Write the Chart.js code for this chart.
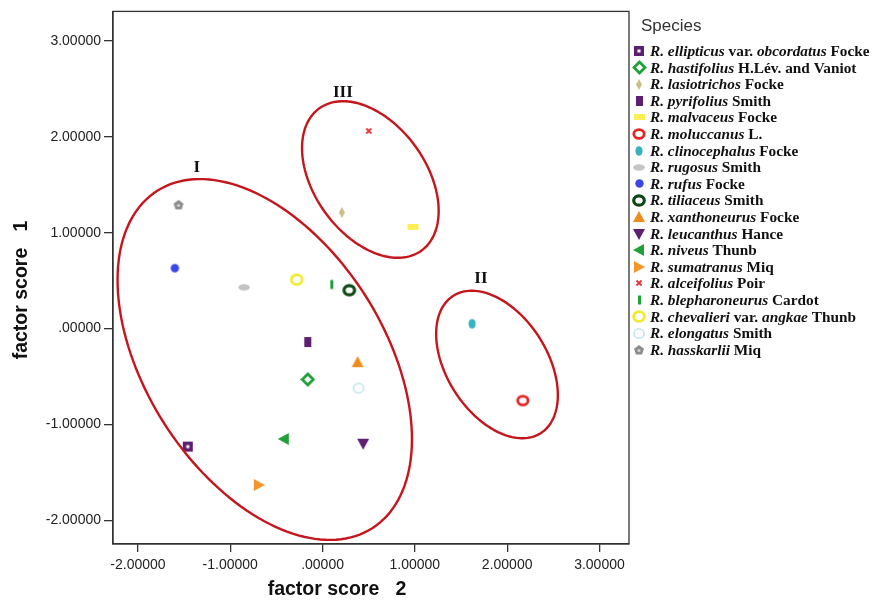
<!DOCTYPE html>
<html>
<head>
<meta charset="utf-8">
<script src="https://cdn.jsdelivr.net/npm/chart.js@4.4.1/dist/chart.umd.min.js"></script>
<style>
  html, body { margin: 0; padding: 0; background: #fff; }
  #wrap { width: 875px; height: 601px; }
</style>
</head>
<body>
<div id="wrap"><canvas id="chart" width="875" height="601"></canvas></div>
<script>
// ---- data ----
// species names: *...* marks italic parts
const species = [
  '*R. ellipticus* var. *obcordatus* Focke',
  '*R. hastifolius* H.Lév. and Vaniot',
  '*R. lasiotrichos* Focke',
  '*R. pyrifolius* Smith',
  '*R. malvaceus* Focke',
  '*R. moluccanus* L.',
  '*R. clinocephalus* Focke',
  '*R. rugosus* Smith',
  '*R. rufus* Focke',
  '*R. tiliaceus* Smith',
  '*R. xanthoneurus* Focke',
  '*R. leucanthus* Hance',
  '*R. niveus* Thunb',
  '*R. sumatranus* Miq',
  '*R. alceifolius* Poir',
  '*R. blepharoneurus* Cardot',
  '*R. chevalieri* var. *angkae* Thunb',
  '*R. elongatus* Smith',
  '*R. hasskarlii* Miq'
];
// factor score 2 (x axis)
const factorScore2 = [-1.46, -0.16, 0.21, -0.16, 0.98, 2.17, 1.62, -0.85, -1.60, 0.29,
                       0.38, 0.44, -0.42, -0.69, 0.50, 0.10, -0.28, 0.39, -1.56];
// factor score 1 (y axis)
const factorScore1 = [-1.23, -0.53, 1.21, -0.14, 1.06, -0.75, 0.05, 0.43, 0.63, 0.40,
                      -0.35, -1.20, -1.15, -1.63, 2.06, 0.46, 0.51, -0.62, 1.29];
const xTicks = [-2, -1, 0, 1, 2, 3];
const yTicks = [-2, -1, 0, 1, 2, 3];
const xTitle = 'factor score   2';
const yTitle = 'factor score   1';
const legendTitle = 'Species';

// cluster ellipses in data units: centre, two conjugate semi-axes, label spot
const clusterNames = ['I', 'II', 'III'];
const clusterCentre = [[-0.626, -0.322], [1.890, -0.374], [0.518, 1.554]];
const clusterAxisU = [[1.165, -1.758], [0.473, -0.716], [0.552, -0.742]];
const clusterAxisV = [[-1.089, -0.667], [-0.459, -0.280], [-0.493, -0.339]];
const clusterLabelAt = [[-1.363, 1.674], [1.716, 0.52], [0.220, 2.464]];

// ---- markers ----
const SANS = '"Liberation Sans", Arial, sans-serif';
const SERIF = '"Liberation Serif", "Times New Roman", serif';
const PURPLE = '#5E1F72', GREEN = '#21A03A', ORANGE = '#F08C1E';

function mk(w, h, paint) {
  const c = document.createElement('canvas');
  c.width = w; c.height = h;
  paint(c.getContext('2d'), w, h);
  return c;
}
function ring(rx, ry, lw, color) {
  return mk(Math.ceil(2 * rx + lw + 2), Math.ceil(2 * ry + lw + 2), (g, w, h) => {
    g.strokeStyle = color; g.lineWidth = lw;
    g.beginPath(); g.ellipse(w / 2, h / 2, rx, ry, 0, 0, Math.PI * 2); g.stroke();
  });
}
function oval(rx, ry, color) {
  return mk(Math.ceil(2 * rx + 2), Math.ceil(2 * ry + 2), (g, w, h) => {
    g.fillStyle = color;
    g.beginPath(); g.ellipse(w / 2, h / 2, rx, ry, 0, 0, Math.PI * 2); g.fill();
  });
}
function box(bw, bh, color) {
  return mk(bw + 2, bh + 2, (g) => { g.fillStyle = color; g.fillRect(1, 1, bw, bh); });
}
function tri(angle, s, color) {
  return mk(s + 2, s + 2, (g, w, h) => {
    g.translate(w / 2, h / 2); g.rotate(angle);
    g.fillStyle = color;
    g.beginPath();
    g.moveTo(0, -s / 2); g.lineTo(s / 2, s / 2 - 1); g.lineTo(-s / 2, s / 2 - 1);
    g.closePath(); g.fill();
  });
}

const markers = [
  mk(12, 12, (g) => { g.fillStyle = PURPLE; g.fillRect(1, 1, 10, 10); g.fillStyle = '#fff'; g.fillRect(4.5, 4.5, 3, 3); }),
  mk(15, 15, (g) => {
    g.strokeStyle = GREEN; g.lineWidth = 2.8;
    g.beginPath(); g.moveTo(7.5, 2); g.lineTo(13, 7.5); g.lineTo(7.5, 13); g.lineTo(2, 7.5); g.closePath(); g.stroke();
  }),
  mk(8, 13, (g) => {
    g.fillStyle = '#C9BE8C';
    g.beginPath(); g.moveTo(4, 1); g.lineTo(7, 6.5); g.lineTo(4, 12); g.lineTo(1, 6.5); g.closePath(); g.fill();
  }),
  box(7, 10, PURPLE),
  box(11, 6, '#FBEF55'),
  ring(5.2, 4.4, 2.8, '#E12626'),
  oval(3.6, 4.8, '#35B3BE'),
  oval(5.8, 3.2, '#C4C4C4'),
  oval(4.2, 4.2, '#3B46E6'),
  ring(5.3, 4.7, 3.2, '#0C4716'),
  tri(0, 12, ORANGE),
  tri(Math.PI, 12, PURPLE),
  tri(-Math.PI / 2, 12, GREEN),
  tri(Math.PI / 2, 12, '#F3952A'),
  mk(8, 8, (g) => {
    g.strokeStyle = '#E23A3A'; g.lineWidth = 1.9;
    g.beginPath(); g.moveTo(1.5, 1.5); g.lineTo(6.5, 6.5); g.moveTo(6.5, 1.5); g.lineTo(1.5, 6.5); g.stroke();
  }),
  mk(5, 12, (g) => { g.fillStyle = GREEN; g.fillRect(1, 1.5, 3, 9); }),
  ring(5.4, 4.8, 2.8, '#F2EA2C'),
  ring(5, 4.7, 1.5, '#BCE4EA'),
  mk(12, 12, (g) => {
    g.fillStyle = '#8C8C8C';
    g.beginPath();
    for (let k = 0; k < 5; k++) {
      const a = -Math.PI / 2 + k * 2 * Math.PI / 5;
      const px = 6 + 5.2 * Math.cos(a), py = 6.3 + 5.2 * Math.sin(a);
      k ? g.lineTo(px, py) : g.moveTo(px, py);
    }
    g.closePath(); g.fill();
    g.fillStyle = '#D0D0D0';
    g.beginPath(); g.arc(6, 6.5, 1.6, 0, Math.PI * 2); g.fill();
  })
];

// ---- plugins ----
const framePlugin = {
  id: 'frame',
  afterDatasetsDraw(chart) {
    const { ctx, chartArea: a, scales: { x, y } } = chart;
    ctx.save();
    // plot frame
    ctx.strokeStyle = '#333'; ctx.lineWidth = 1.3;
    ctx.strokeRect(a.left, a.top, a.right - a.left, a.bottom - a.top);
    // cluster ellipses
    ctx.strokeStyle = '#C4161C'; ctx.lineWidth = 2.4;
    clusterNames.forEach((name, i) => {
      const [cx, cy] = clusterCentre[i], [ux, uy] = clusterAxisU[i], [vx, vy] = clusterAxisV[i];
      ctx.beginPath();
      for (let k = 0; k <= 160; k++) {
        const t = k / 160 * Math.PI * 2;
        const px = x.getPixelForValue(cx + ux * Math.cos(t) + vx * Math.sin(t));
        const py = y.getPixelForValue(cy + uy * Math.cos(t) + vy * Math.sin(t));
        k ? ctx.lineTo(px, py) : ctx.moveTo(px, py);
      }
      ctx.closePath(); ctx.stroke();
      ctx.fillStyle = '#111';
      ctx.font = 'bold 17px ' + SERIF;
      ctx.textAlign = 'center'; ctx.textBaseline = 'middle';
      ctx.fillText(name, x.getPixelForValue(clusterLabelAt[i][0]), y.getPixelForValue(clusterLabelAt[i][1]));
    });
    ctx.restore();
  },
  afterDraw(chart) {
    const { ctx } = chart;
    ctx.save();
    // axis titles
    ctx.fillStyle = '#111';
    ctx.font = 'bold 19.5px ' + SANS;
    ctx.textAlign = 'center'; ctx.textBaseline = 'middle';
    ctx.fillText(xTitle, 337, 590);
    ctx.translate(22, 290); ctx.rotate(-Math.PI / 2);
    ctx.fillText(yTitle, 0, 0);
    ctx.restore();

    // legend
    ctx.save();
    ctx.fillStyle = '#333';
    ctx.font = '17px ' + SANS;
    ctx.textAlign = 'left'; ctx.textBaseline = 'middle';
    ctx.fillText(legendTitle, 641, 26);
    ctx.fillStyle = '#111';
    species.forEach((name, i) => {
      const ry = 51 + i * 16.6;
      const m = markers[i];
      ctx.drawImage(m, Math.round(639 - m.width / 2), Math.round(ry - m.height / 2));
      let tx = 650;
      name.split('*').forEach((seg, k) => {
        if (!seg) return;
        ctx.font = (k % 2 ? 'italic bold ' : 'bold ') + '15.3px ' + SERIF;
        ctx.fillText(seg, tx, ry + 1);
        tx += ctx.measureText(seg).width;
      });
    });
    ctx.restore();
  }
};

const fmt = (v) => v === 0 ? '.00000' : v.toFixed(5);

new Chart(document.getElementById('chart'), {
  type: 'scatter',
  data: {
    datasets: species.map((name, i) => ({
      label: name.replace(/\*/g, ''),
      data: [{ x: factorScore2[i], y: factorScore1[i] }],
      pointStyle: markers[i],
      pointRadius: 5
    }))
  },
  options: {
    responsive: false,
    animation: false,
    layout: { padding: { left: 0, top: 10, right: 246, bottom: 0 } },
    plugins: { legend: { display: false }, tooltip: { enabled: false } },
    scales: {
      x: {
        type: 'linear', min: -2.27, max: 3.32,
        afterBuildTicks: (s) => { s.ticks = xTicks.map((v) => ({ value: v })); },
        afterFit: (s) => { s.height = 57; },
        grid: { drawOnChartArea: false, drawTicks: true, tickLength: 8, color: '#333', lineWidth: 1.3 },
        border: { color: '#333', width: 1.3 },
        ticks: { color: '#222', font: { family: SANS, size: 14 }, padding: 5, maxRotation: 0, autoSkip: false, callback: fmt }
      },
      y: {
        type: 'linear', min: -2.245, max: 3.306,
        afterBuildTicks: (s) => { s.ticks = yTicks.map((v) => ({ value: v })); },
        afterFit: (s) => { s.width = 113; },
        grid: { drawOnChartArea: false, drawTicks: true, tickLength: 9, color: '#333', lineWidth: 1.3 },
        border: { color: '#333', width: 1.3 },
        ticks: { color: '#222', font: { family: SANS, size: 14 }, padding: 3, autoSkip: false, callback: fmt }
      }
    }
  },
  plugins: [framePlugin]
});
</script>
</body>
</html>
